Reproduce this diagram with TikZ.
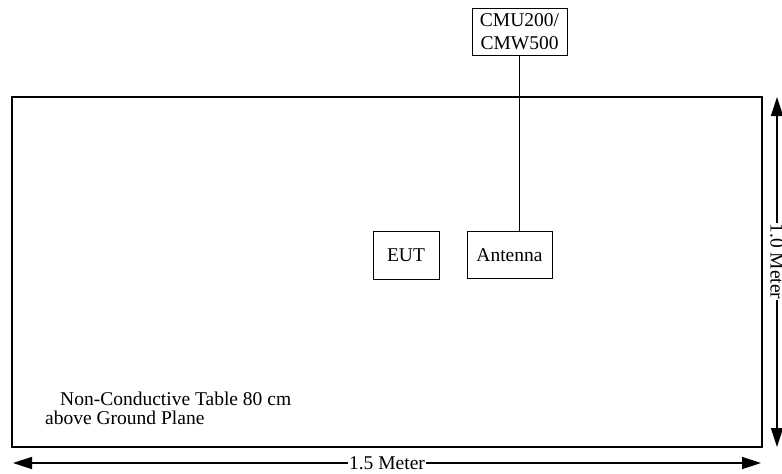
\documentclass[tikz,border=0pt]{standalone}
\usepackage{fontspec}
\setmainfont{Liberation Serif}
\usetikzlibrary{positioning, arrows.meta}

\begin{document}
\begin{tikzpicture}[
  x=1pt, y=-1pt,
  every node/.style={font=\fontsize{19.5}{23}\selectfont},
  box/.style={rectangle, draw, line width=1pt, inner sep=0pt, align=center},
  tablebox/.style={draw, line width=2.4pt},
  dimarr/.style={{Triangle[length=19pt,width=12pt]}-{Triangle[length=19pt,width=12pt]}, line width=1.5pt},
  dimlabel/.style={fill=white, inner sep=1pt}
]
\useasboundingbox (0,0) rectangle (782,474);

% table
\draw[tablebox] (12,97) rectangle (762,447);

% instruments
\node[box, minimum width=95pt, minimum height=47pt] (cmu) at (519.5,31.5) {CMU200/\\CMW500};
\node[box, minimum width=66pt, minimum height=48pt] (eut) at (406,255) {EUT};
\node[box, minimum width=85pt, minimum height=47pt, right=27pt of eut] (ant) {Antenna};
\draw[line width=0.9pt] (cmu.south) -- (cmu.south |- ant.north);

% table text
\node[anchor=north west, align=left, inner sep=0pt, font=\fontsize{19.5}{19}\selectfont] (tabletext) at (45,392)
  {\hspace*{15pt}Non-Conductive Table 80 cm\\above Ground Plane};

% dimensions
\coordinate (hl) at (13,463);
\coordinate (hr) at (761,463);
\coordinate (vt) at (777,97);
\coordinate (vb) at (777,447);
\draw[dimarr] (hl) -- (hr) node[dimlabel, pos=0.5] (hlabel) {1.5 Meter};
\draw[dimarr] (vt) -- (vb) node[dimlabel, pos=0.47, rotate=-90] (vlabel) {1.0 Meter};
\end{tikzpicture}
\end{document}
